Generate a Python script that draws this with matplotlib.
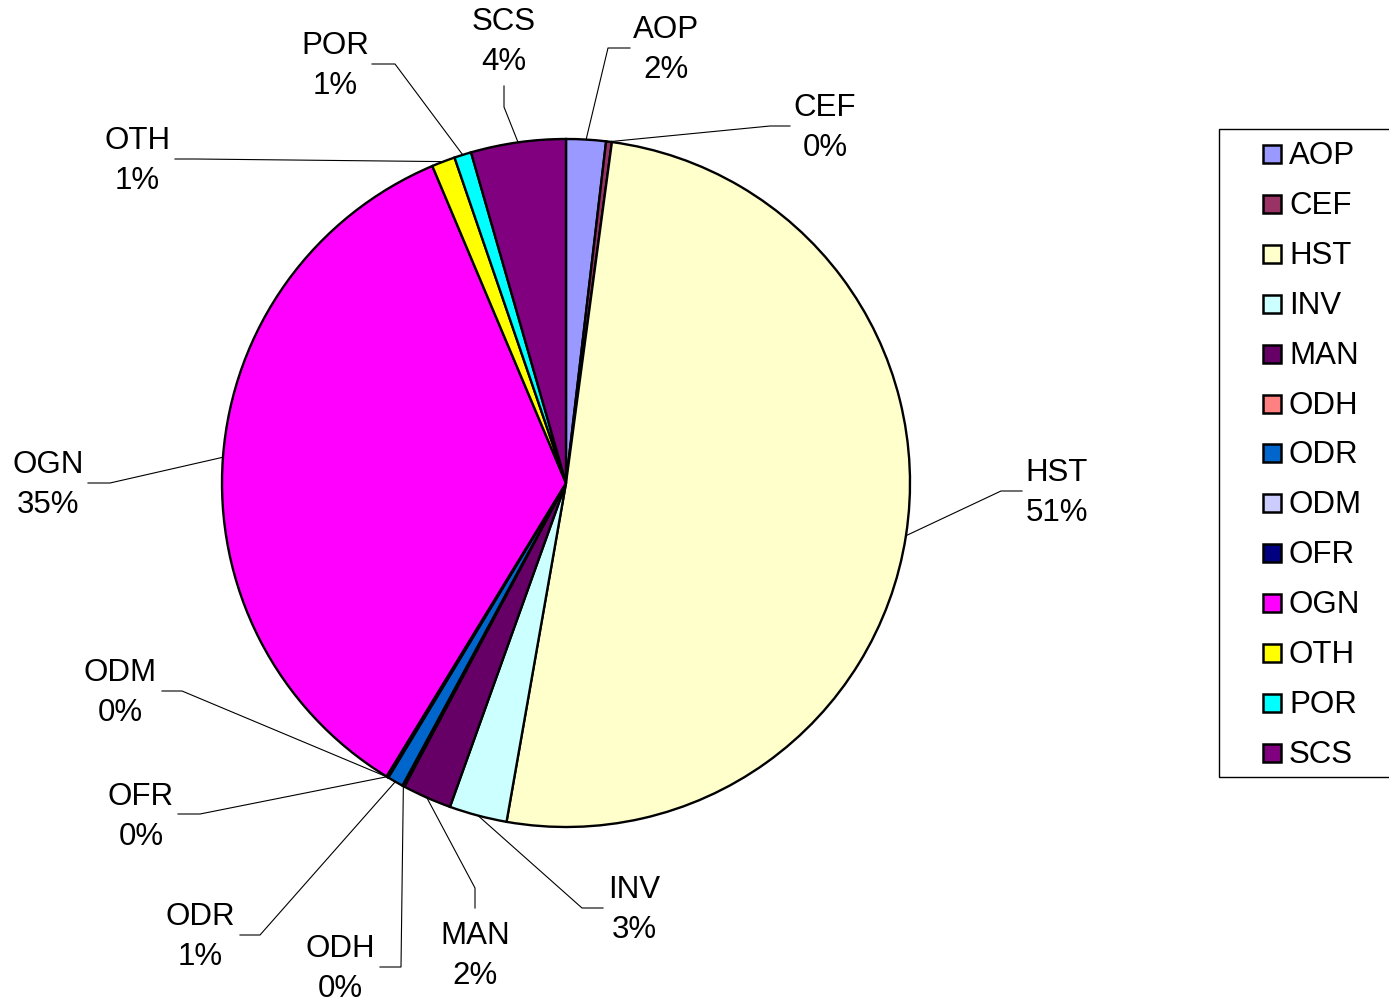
import numpy as np
import matplotlib
matplotlib.use('Agg')
import matplotlib.pyplot as plt
from matplotlib.patches import Rectangle

plt.rcParams['font.family'] = ['Liberation Sans', 'DejaVu Sans']

categories = ["AOP", "CEF", "HST", "INV", "MAN", "ODH", "ODR",
              "ODM", "OFR", "OGN", "OTH", "POR", "SCS"]
shares = [1.86, 0.27, 50.62, 2.71, 2.31, 0.10, 0.75,
          0.05, 0.05, 34.90, 1.10, 0.80, 4.45]
colors = ["#9999FF", "#993366", "#FFFFCC", "#CCFFFF", "#660066", "#FF8080", "#0066CC",
          "#CCCCFF", "#000080", "#FF00FF", "#FFFF00", "#00FFFF", "#800080"]

# label layout in pixel coords (y down): elbow, end of leader, text centre
label_layout = {
    "AOP": ((608, 48), (630, 48), (666, 50)),
    "CEF": ((770, 126), (790, 126), (825, 128)),
    "HST": ((1001, 491), (1022, 491), (1057, 493)),
    "INV": ((582, 908), (603, 908), (634, 910)),
    "MAN": ((475, 888), (475, 908), (475, 956)),
    "ODH": ((401, 967), (380, 967), (340, 969)),
    "ODR": ((260, 935), (240, 935), (200, 937)),
    "ODM": ((182, 691), (162, 691), (120, 693)),
    "OFR": ((200, 814), (178, 814), (141, 817)),
    "OGN": ((110, 483), (88, 483), (48, 485)),
    "OTH": ((195, 159), (175, 159), (137, 161)),
    "POR": ((395, 64), (372, 64), (335, 66)),
    "SCS": ((504, 107), (504, 86), (504, 42)),
}

W, H = 1389, 1001
FS = 22.5


def Y(y):
    return H - y


fig = plt.figure(figsize=(13.89, 10.01), dpi=100)
ax = fig.add_axes([0, 0, 1, 1])

cx, cy, r = 566, 483, 344
wedges, _ = ax.pie(shares, colors=colors, startangle=90, counterclock=False,
                   center=(cx, Y(cy)), radius=r,
                   wedgeprops=dict(edgecolor="black", linewidth=1.7))
ax.set_xlim(0, W)
ax.set_ylim(0, H)
ax.set_aspect("equal")
ax.axis("off")

total = sum(shares)
for w, name, v in zip(wedges, categories, shares):
    mid = np.deg2rad((w.theta1 + w.theta2) / 2)
    sx = cx + r * np.cos(mid)
    sy = Y(cy) + r * np.sin(mid)
    (ex, ey), (tx, ty), (lx, ly) = label_layout[name]
    ax.plot([sx, ex, tx], [sy, Y(ey), Y(ty)], color="black", lw=0.8)
    ax.text(lx, Y(ly), f"{name}\n{v / total * 100:.0f}%", ha="center", va="center",
            multialignment="center", fontsize=FS, linespacing=1.4)

# legend box
ax.add_patch(Rectangle((1219, Y(777)), 300, 777 - 129, facecolor="white",
                       edgecolor="black", lw=1))
for i, (name, c) in enumerate(zip(categories, colors)):
    yy = 154 + i * 49.9
    ax.add_patch(Rectangle((1263, Y(yy) - 9), 18, 18, facecolor=c,
                           edgecolor="black", lw=1.8))
    ax.text(1289, Y(yy + 2), name, ha="left", va="center", fontsize=FS)

fig.savefig("out.png", dpi=100)
